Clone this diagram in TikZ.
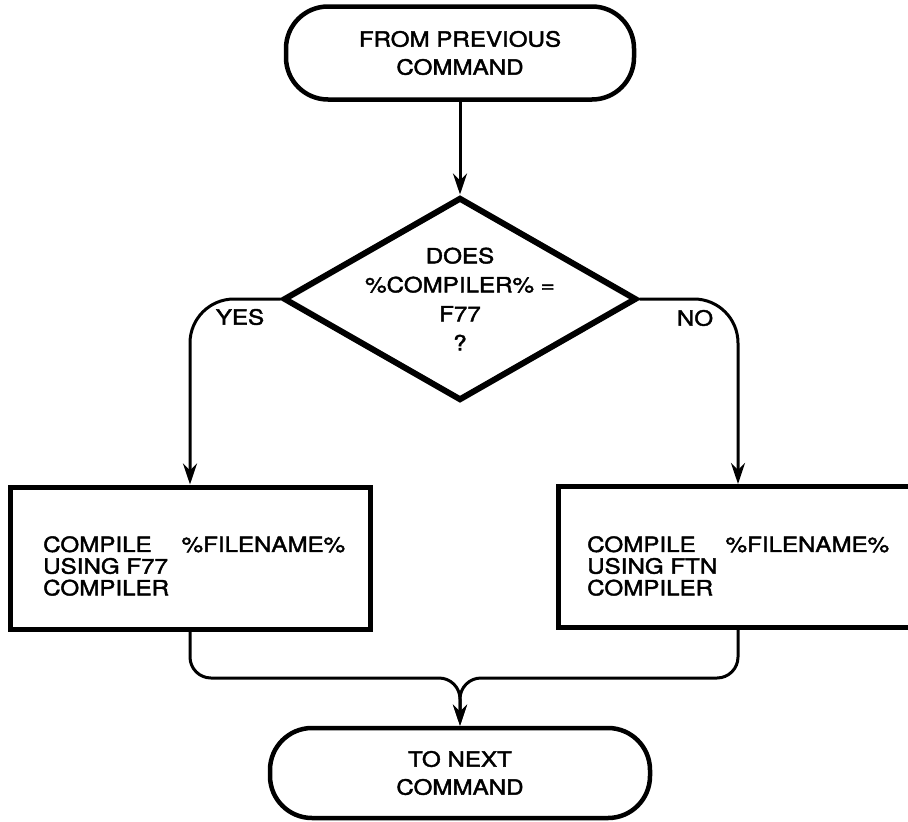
\documentclass[tikz,border=0pt]{standalone}
\usepackage{fontspec}
\newfontfamily\flowfont{TeX Gyre Heros}[FakeStretch=1.15,FakeBold=2]
\usetikzlibrary{shapes.geometric,arrows.meta}

\tikzset{
  terminal/.style={draw, line width=4.5pt, rounded corners=42pt, align=center,
    inner sep=0pt, font=\flowfont\fontsize{21}{28}\selectfont},
  decision/.style={draw, diamond, line width=6pt, inner sep=0pt},
  decisiontext/.style={align=center, inner sep=0pt,
    font=\flowfont\fontsize{21}{29}\selectfont},
  process/.style={draw, line width=5pt, inner sep=0pt},
  processtext/.style={align=left, inner sep=0pt,
    font=\flowfont\fontsize{21}{21.7}\selectfont},
  conn/.style={line width=3pt, -{Stealth[length=21pt,width=14pt]}},
  branch/.style={font=\flowfont\fontsize{21}{24}\selectfont, inner sep=0pt}
}

\begin{document}
\begin{tikzpicture}[x=1pt,y=-1pt]
  \useasboundingbox (0,0) rectangle (908,822);
  \clip (0,0) rectangle (908,822);

  % start / end terminals
  \node[terminal, minimum width=348pt, minimum height=93pt] (tterm) at (460,53)
    {FROM PREVIOUS\\COMMAND};
  \node[terminal, minimum width=380pt, minimum height=90pt] (bterm) at (460,773)
    {TO NEXT\\COMMAND};

  % compiler test
  \node[decision, minimum width=353pt, minimum height=203pt] (dia) at (460,299) {};
  \node[decisiontext] (diatext) at (dia.center) {DOES\\\%COMPILER\% =\\F77\\?};

  % the two compile steps
  \node[process, minimum width=360pt, minimum height=142pt] (lbox) at (190,558) {};
  \node[processtext, anchor=west] (ltext) at (43,566)
    {COMPILE\hspace*{30pt}\%FILENAME\%\\USING F77\\COMPILER};
  \node[process, minimum width=360pt, minimum height=141pt] (rbox) at (738,557) {};
  \node[processtext, anchor=west] (rtext) at (587,566)
    {COMPILE\hspace*{30pt}\%FILENAME\%\\USING FTN\\COMPILER};

  % branch labels
  \node[branch] (yes) at (240,317) {YES};
  \node[branch] (no) at (695,318) {NO};

  % connectors
  \draw[conn] (tterm.south) -- (dia.north);
  \draw[conn, rounded corners=44pt] (dia.west) -| (lbox.north);
  \draw[conn, rounded corners=44pt] (dia.east) -| (rbox.north);

  \coordinate (merge) at (460,678);
  \draw[conn, rounded corners=21pt] (lbox.south) |- (merge) -- (bterm.north);
  \draw[conn, rounded corners=21pt] (rbox.south) |- (merge) -- (bterm.north);
\end{tikzpicture}
\end{document}
